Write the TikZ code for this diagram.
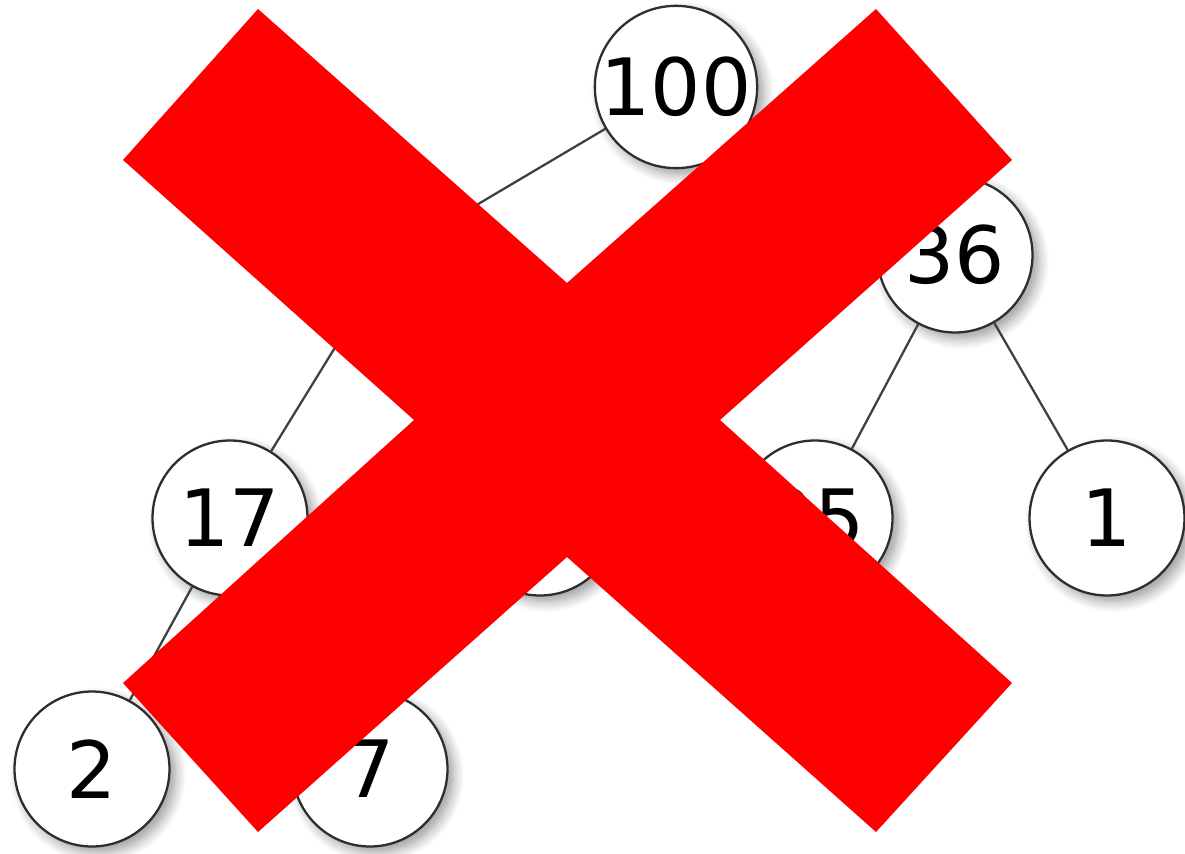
\documentclass[tikz,border=0pt]{standalone}
\usepackage{fontspec}
\setmainfont{DejaVu Sans}
\usepackage{tikz}
\usetikzlibrary{shadows.blur}
\definecolor{nodeline}{HTML}{2E2E2E}
\definecolor{edgeline}{HTML}{404040}
\definecolor{crossred}{HTML}{FE0000}
\tikzset{
  heapnode/.style={circle, draw=nodeline, line width=1.3pt, fill=white, minimum size=3.1cm, inner sep=0pt,
    font=\fontsize{45}{50}\selectfont,
    blur shadow={shadow xshift=3.5pt, shadow yshift=-3.5pt, shadow blur radius=6pt, shadow blur steps=10, shadow opacity=40}},
  heapedge/.style={draw=edgeline, line width=1.3pt},
  crossfill/.style={fill=crossred, draw=none}
}

\begin{document}
\begin{tikzpicture}[x=0.02cm,y=-0.02cm]
  \useasboundingbox (0,0) rectangle (1185,854);

  % heap nodes
  \node[heapnode] (n100) at (676,87)  {100};
  \node[heapnode] (nl)   at (392,255) {};
  \node[heapnode] (n36)  at (955,255) {36};
  \node[heapnode] (n17)  at (230,518) {17};
  \node[heapnode] (nr)   at (540,518) {};
  \node[heapnode] (n25)  at (815,518) {25};
  \node[heapnode] (n1)   at (1107,518) {1};
  \node[heapnode] (n2)   at (92,769)  {2};
  \node[heapnode] (n7)   at (370,769) {7};

  % edges
  \draw[heapedge] (n100) -- (nl);
  \draw[heapedge] (n100) -- (n36);
  \draw[heapedge] (nl) -- (n17);
  \draw[heapedge] (nl) -- (nr);
  \draw[heapedge] (n36) -- (n25);
  \draw[heapedge] (n36) -- (n1);
  \draw[heapedge] (n17) -- (n2);
  \draw[heapedge] (n17) -- (n7);

  % cross over the tree
  \fill[crossfill] (258,9) -- (567,283) -- (876,9) -- (1012,160) -- (720,420) -- (1012,683)
    -- (876,832) -- (567,557) -- (258,832) -- (123,683) -- (414,420) -- (123,160) -- cycle;

\end{tikzpicture}
\end{document}
